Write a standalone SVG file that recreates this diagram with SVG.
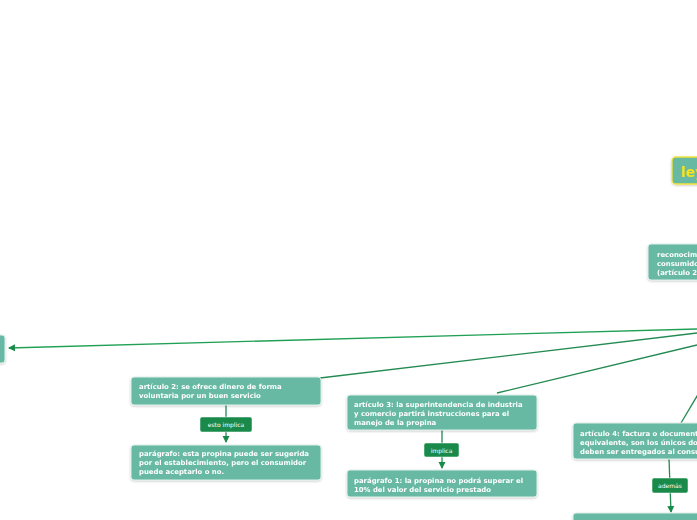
<svg xmlns="http://www.w3.org/2000/svg" width="697" height="520" viewBox="0 0 697 520">
<style>
.node rect{fill:#67b9a3;stroke:#dff0ea;stroke-width:1}
.node text{font-family:"DejaVu Sans",Verdana,sans-serif;font-weight:bold;font-size:6.9px;fill:#ffffff}
.lbl rect{fill:#1a8a4a;stroke:#ffffff;stroke-width:0.5}
.lbl text{font-family:"DejaVu Sans",Verdana,sans-serif;font-size:6px;fill:#ffffff;text-anchor:middle}
.conn{fill:none;stroke:#238a52;stroke-width:1.3}
.conn2{fill:none;stroke:#1fa055;stroke-width:1.3}
</style>
<defs>
<marker id="arr" markerWidth="8" markerHeight="8" refX="6" refY="4" orient="auto" markerUnits="userSpaceOnUse">
<path d="M0,0.5 L7,4 L0,7.5 z" fill="#1a8a4a"/>
</marker>
<filter id="sh" x="-10%" y="-20%" width="120%" height="150%">
<feDropShadow dx="0" dy="1" stdDeviation="1" flood-color="#000" flood-opacity="0.2"/>
</filter>
</defs>
<rect width="697" height="520" fill="#ffffff"/>
<g id="connectors">
<path class="conn2" d="M697,329 L9,348" marker-end="url(#arr)"/>
<path class="conn" d="M697,333 L320,378"/>
<path class="conn" d="M697,345 L497,393"/>
<path class="conn" d="M706,381 L681,423"/>
<path class="conn" d="M226,404 L226,442" marker-end="url(#arr)"/>
<path class="conn" d="M442,430 L442,468" marker-end="url(#arr)"/>
<path class="conn" d="M669,459 L671,512" marker-end="url(#arr)"/>
</g>
<g id="title" filter="url(#sh)">
<rect x="672" y="157" width="120" height="27" rx="4" fill="#67b9a3" stroke="#f2e33a" stroke-width="1.3"/>
<text x="681" y="177" font-family="DejaVu Sans,Verdana,sans-serif" font-weight="bold" font-size="14" fill="#f5e31f">ley 1935 de 2018</text>
</g>
<g id="reconocimiento" class="node" filter="url(#sh)">
<rect x="648" y="244" width="160" height="36" rx="3"/>
<text x="657" y="257">reconocimiento de la propina al</text>
<text x="657" y="266">consumidor como voluntaria</text>
<text x="657" y="275">(artículo 2)</text>
</g>
<g id="left-node" class="node" filter="url(#sh)">
<rect x="-40" y="335" width="45" height="28" rx="3"/>
</g>
<g id="articulo2" class="node" filter="url(#sh)">
<rect x="131" y="377" width="190" height="28" rx="3"/>
<text x="139" y="389">artículo 2: se ofrece dinero de forma</text>
<text x="139" y="398">voluntaria por un buen servicio</text>
</g>
<g id="lbl-esto-implica" class="lbl">
<rect x="200" y="417" width="52" height="15" rx="2"/>
<text x="226" y="427">esto implica</text>
</g>
<g id="paragrafo" class="node" filter="url(#sh)">
<rect x="131" y="445" width="190" height="35" rx="3"/>
<text x="139" y="456">parágrafo: esta propina puede ser sugerida</text>
<text x="139" y="465">por el establecimiento, pero el consumidor</text>
<text x="139" y="474">puede aceptarlo o no.</text>
</g>
<g id="articulo3" class="node" filter="url(#sh)">
<rect x="347" y="395" width="190" height="35" rx="3"/>
<text x="354" y="407">artículo 3: la superintendencia de industria</text>
<text x="354" y="416">y comercio partirá instrucciones para el</text>
<text x="354" y="425">manejo de la propina</text>
</g>
<g id="lbl-implica" class="lbl">
<rect x="424" y="443" width="35" height="14" rx="2"/>
<text x="441.5" y="452.5">implica</text>
</g>
<g id="paragrafo1" class="node" filter="url(#sh)">
<rect x="347" y="470" width="190" height="27" rx="3"/>
<text x="354" y="483">parágrafo 1: la propina no podrá superar el</text>
<text x="354" y="492">10% del valor del servicio prestado</text>
</g>
<g id="articulo4" class="node" filter="url(#sh)">
<rect x="573" y="423" width="190" height="36" rx="3"/>
<text x="580" y="436">artículo 4: factura o documento</text>
<text x="580" y="445">equivalente, son los únicos documentos que</text>
<text x="580" y="454">deben ser entregados al consumidor</text>
</g>
<g id="lbl-ademas" class="lbl">
<rect x="652" y="478" width="36" height="15" rx="2"/>
<text x="670" y="488">además</text>
</g>
<g id="bottom-node" class="node" filter="url(#sh)">
<rect x="573" y="513" width="190" height="30" rx="3"/>
</g>
</svg>
